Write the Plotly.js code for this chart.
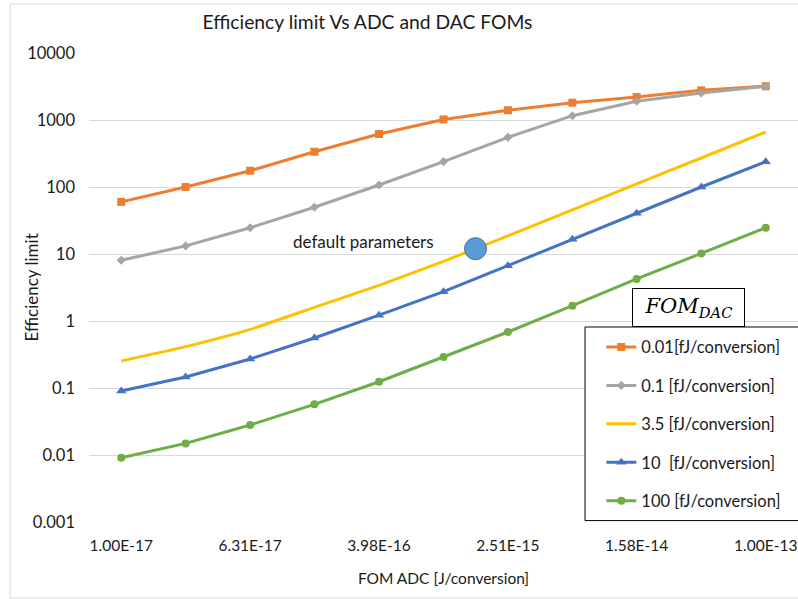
<!DOCTYPE html>
<html>
<head>
<meta charset="utf-8">
<script src="https://cdn.plot.ly/plotly-3.0.1.min.js"></script>
<style>html,body{margin:0;padding:0;background:#fff;}#chart{width:798px;height:599px;}</style>
</head>
<body>
<div id="chart"></div>
<script>
// FOM ADC categories [J/conversion]
const xLabels = ["1.00E-17","2.51E-17","6.31E-17","1.58E-16","3.98E-16","1.00E-15","2.51E-15","6.31E-15","1.58E-14","3.98E-14","1.00E-13"];
const xValues = xLabels.map(Number);

// Efficiency limit for each FOM DAC
const seriesNames = ["0.01[fJ/conversion]","0.1 [fJ/conversion]","3.5 [fJ/conversion]","10  [fJ/conversion]","100 [fJ/conversion]"];
const dac001 = [60, 100, 175, 336, 618, 1020, 1400, 1810, 2200, 2770, 3190];
const dac01  = [8.05, 13.2, 24.7, 49.8, 107, 239, 551, 1160, 1900, 2530, 3190];
const dac35  = [0.253, 0.414, 0.75, 1.6, 3.41, 7.76, 18.7, 45.7, 111, 271, 662];
const dac10  = [0.090, 0.146, 0.271, 0.557, 1.22, 2.74, 6.7, 16.6, 40.5, 100, 239];
const dac100 = [0.0091, 0.0149, 0.028, 0.057, 0.124, 0.29, 0.685, 1.69, 4.24, 10.2, 24.7];

// default parameters point
const defaultX = [1.58e-15];
const defaultY = [12];

const yTickVals = [0.001, 0.01, 0.1, 1, 10, 100, 1000, 10000];
const yTickText = ["0.001","0.01","0.1","1","10","100","1000","10000"];

const colors = ["#ED7D31","#A5A5A5","#FFC000","#4472C4","#70AD47"];
const symbols = ["square","diamond",null,"triangle-up","circle"];
const msizes = [8,7,0,9,8];
const allY = [dac001, dac01, dac35, dac10, dac100];

const traces = allY.map((ys, i) => {
  const t = {
    x: xValues, y: ys, name: seriesNames[i], type: "scatter",
    legendgroup: "g" + i,
    line: {color: colors[i], width: 3},
  };
  if (symbols[i]) {
    t.mode = "lines+markers";
    t.marker = {symbol: symbols[i], size: msizes[i], color: colors[i]};
  } else {
    t.mode = "lines";
    t.line.shape = "spline";
    t.line.smoothing = 0.6;
  }
  return t;
});

traces.push({
  x: defaultX, y: defaultY, type: "scatter", mode: "markers", showlegend: false,
  marker: {size: 22, color: "#5B9BD5", line: {color: "#41719C", width: 1}}
});

const F = "Lato, 'Open Sans', sans-serif";
const txt = "#1a1a1a";

const layout = {
  width: 798, height: 599,
  margin: {l: 89, r: 0, t: 53, b: 77},
  paper_bgcolor: "#fff", plot_bgcolor: "#fff",
  font: {family: F, color: txt, size: 16},
  title: {text: "Efficiency limit Vs ADC and DAC FOMs", font: {family: F, size: 19.3, color: txt},
          x: 0.4605, xanchor: "center", y: 0.963, yanchor: "middle", xref: "container", yref: "container"},
  xaxis: {
    type: "log", range: [-17.2, -12.8],
    tickvals: xValues.filter((v, i) => i % 2 === 0),
    ticktext: xLabels.filter((v, i) => i % 2 === 0),
    showgrid: false, zeroline: false, showline: false, ticks: "",
    ticklabelstandoff: 12,
    tickfont: {family: F, size: 15.5, color: txt},
    title: {text: "FOM ADC [J/conversion]", font: {family: F, size: 15.5, color: txt}, standoff: 20},
    automargin: false
  },
  yaxis: {
    type: "log", range: [-3, 4],
    tickvals: yTickVals, ticktext: yTickText,
    showgrid: true, gridcolor: "#d9d9d9", gridwidth: 1,
    zeroline: false, showline: false, ticks: "",
    ticklabelstandoff: 13,
    tickfont: {family: F, size: 16.5, color: txt},
    automargin: false
  },
  showlegend: true,
  legend: {
    x: 0.7226, xanchor: "left", y: 0.41, yanchor: "top",
    bgcolor: "rgba(0,0,0,0)", borderwidth: 0,
    font: {family: F, size: 16.5, color: txt},
    tracegroupgap: 14, itemwidth: 30
  },
  shapes: [
    {type: "rect", xref: "paper", yref: "paper", x0: -0.1114, x1: 1.01, y0: -0.162, y1: 1.1045,
     line: {color: "#d9d9d9", width: 1}, fillcolor: "rgba(0,0,0,0)", layer: "below"},
    {type: "rect", xref: "paper", yref: "paper", x0: 0.6996, x1: 1.02, y0: 0.003, y1: 0.4158,
     line: {color: "#000", width: 1}, fillcolor: "#fff", layer: "above"}
  ],
  annotations: [
    {text: "Efficiency limit", xref: "paper", yref: "paper", x: -0.0804, y: 0.5, textangle: -90,
     xanchor: "center", yanchor: "middle", showarrow: false, font: {family: F, size: 17, color: txt}},
    {text: "default parameters", xref: "paper", yref: "paper", x: 0.3865, y: 0.599,
     xanchor: "center", yanchor: "middle", showarrow: false, font: {family: F, size: 17, color: txt}},
    {text: "<i>FOM</i><sub><i>DAC</i></sub>", xref: "paper", yref: "paper",
     x: 0.8456, y: 0.4158, xanchor: "center", yanchor: "bottom", showarrow: false,
     width: 111, height: 37, bgcolor: "#fff", bordercolor: "#000", borderwidth: 1, borderpad: 0,
     font: {family: "'DejaVu Serif', 'Liberation Serif', serif", size: 21, color: "#000"}}
  ]
};

Plotly.newPlot("chart", traces, layout, {displayModeBar: false, staticPlot: true});
</script>
</body>
</html>
